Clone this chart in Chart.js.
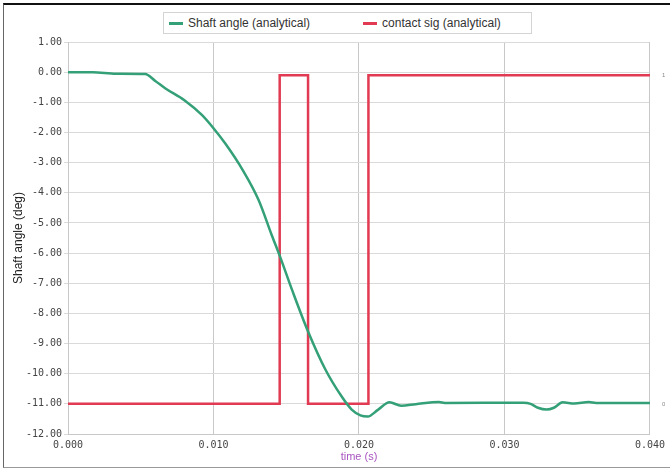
<!DOCTYPE html>
<html>
<head>
<meta charset="utf-8">
<script src="https://cdn.jsdelivr.net/npm/chart.js@4/dist/chart.umd.min.js"></script>
<style>
    body { margin: 0; background: #fff; }
    #frame {
        position: absolute; left: 3px; top: 3px; width: 700px; height: 462px;
        border-top: 2px solid #111; border-left: 1px solid #666; border-bottom: 1px solid #999;
    }
    #myChart { position: absolute; left: 0; top: 0; }
    #legend {
        position: absolute; left: 163px; top: 12px; width: 362px; height: 20px;
        border: 1px solid #d4d4d4; background: #fff;
        display: flex; align-items: center; padding-left: 5px; box-sizing: content-box;
        font: 12px "Liberation Sans", Arial, sans-serif; color: #333;
    }
    .item { display: flex; align-items: center; }
    .item + .item { margin-left: 53px; }
    .swatch { width: 14px; height: 3px; margin-right: 5px; }
</style>
</head>
<body>
<div id="frame"></div>
<canvas id="myChart" width="670" height="468"></canvas>
<div id="legend"></div>
<script>
// shaft angle (deg) vs time (s)
var tempoAngulo = [0, 0.0017, 0.0033, 0.0053, 0.0060, 0.0067, 0.0080, 0.0092, 0.0100, 0.0108,
    0.0120, 0.0131, 0.0140, 0.0146, 0.0154, 0.0165, 0.0177, 0.0188, 0.0195, 0.0201,
    0.0206, 0.0213, 0.0221, 0.0229, 0.0239, 0.0255, 0.0259, 0.0313, 0.0318, 0.0323,
    0.0329, 0.0334, 0.0340, 0.0348, 0.0358, 0.0363, 0.0400]
var angulo = [0, 0, -0.05, -0.06, -0.29, -0.54, -0.93, -1.42, -1.86, -2.36,
    -3.24, -4.24, -5.4, -6.15, -7.22, -8.6, -9.87, -10.75, -11.19, -11.38,
    -11.42, -11.2, -10.95, -11.06, -11.01, -10.94, -10.97, -10.96, -11.0, -11.13,
    -11.19, -11.13, -10.95, -10.99, -10.94, -10.97, -10.97]

// contact signal, held until the next switch time
var tempoContato = [0, 0.01455, 0.0165, 0.02065, 0.040]
var contato = [0, 1, 0, 1, 1]

var xTicks = [0, 0.01, 0.02, 0.03, 0.04]
var contatoTicks = [0, 1]
var nomes = ["Shaft angle (analytical)", "contact sig (analytical)"]
var cores = ["rgb(52, 160, 120)", "rgb(226, 58, 82)"]

const monoFont = { family: "'DejaVu Sans Mono', 'Liberation Mono', monospace", size: 10 }

// html legend with the box around it
const legenda = document.getElementById("legend")
nomes.forEach((nome, i) => {
    const item = document.createElement("div")
    item.className = "item"
    item.innerHTML = `<span class="swatch" style="background:${cores[i]}"></span><span>${nome}</span>`
    legenda.appendChild(item)
})

const ctx = document.getElementById("myChart")

const myChart = new Chart(ctx, {
    type: "line",
    data: {
        datasets: [
            {
                label: nomes[0],
                data: tempoAngulo.map((t, i) => ({ x: t, y: angulo[i] })),
                borderColor: cores[0],
                backgroundColor: cores[0],
                borderWidth: 2.5,
                pointRadius: 0,
                cubicInterpolationMode: "monotone",
                yAxisID: "y",
            },
            {
                label: nomes[1],
                data: tempoContato.map((t, i) => ({ x: t, y: contato[i] })),
                borderColor: cores[1],
                backgroundColor: cores[1],
                borderWidth: 2.5,
                pointRadius: 0,
                stepped: "before",
                yAxisID: "y1",
            },
        ],
    },
    options: {
        responsive: false,
        animation: false,
        layout: { padding: { top: 42 } },
        plugins: {
            legend: { display: false },
            tooltip: { enabled: false },
        },
        scales: {
            x: {
                type: "linear",
                min: 0,
                max: 0.04,
                afterBuildTicks: (s) => { s.ticks = xTicks.map(v => ({ value: v })) },
                ticks: {
                    callback: (v) => v.toFixed(3),
                    font: monoFont,
                    color: "#444",
                    padding: 5,
                    maxRotation: 0,
                    autoSkip: false,
                },
                grid: { color: "#c8c8c8", drawTicks: false },
                border: { color: "#c8c8c8" },
                title: {
                    display: true,
                    text: "time (s)",
                    color: "#a855c0",
                    font: { family: "'Liberation Sans', Arial, sans-serif", size: 11 },
                    padding: { top: 0, bottom: 4 },
                },
                afterFit: (s) => { s.height = 34 },
            },
            y: {
                position: "left",
                min: -12,
                max: 1,
                ticks: {
                    stepSize: 1,
                    callback: (v) => v.toFixed(2),
                    font: monoFont,
                    color: "#444",
                    padding: 2,
                },
                grid: { color: "#dadada", tickLength: 4 },
                border: { color: "#c8c8c8" },
                title: {
                    display: true,
                    text: "Shaft angle (deg)",
                    color: "#222",
                    font: { family: "'Liberation Sans', Arial, sans-serif", size: 12 },
                    padding: { top: 11, bottom: 0 },
                },
                afterFit: (s) => { s.width = 68 },
            },
            y1: {
                position: "right",
                // 0 sits on -11 and 1 just under 0 of the left axis
                min: -1 / 10.9,
                max: 12 / 10.9,
                afterBuildTicks: (s) => { s.ticks = contatoTicks.map(v => ({ value: v })) },
                ticks: { font: { size: 6 }, color: "#888", padding: 4 },
                grid: { display: false },
                border: { color: "#c8c8c8" },
                afterFit: (s) => { s.width = 15 },
            },
        },
    },
});
</script>
</body>
</html>
